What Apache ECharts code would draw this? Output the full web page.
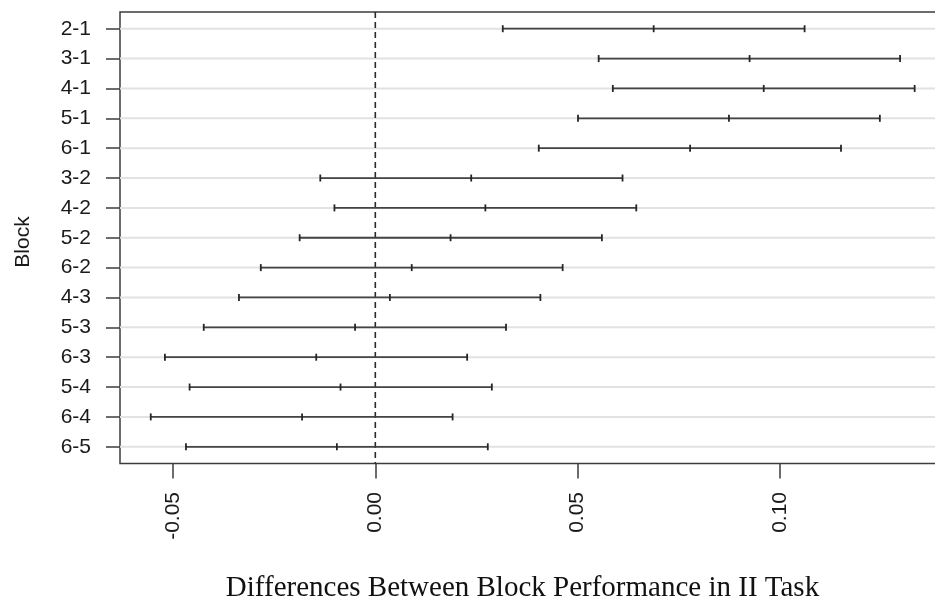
<!DOCTYPE html>
<html>
<head>
<meta charset="utf-8">
<title>Block differences</title>
<script src="https://cdn.jsdelivr.net/npm/echarts@6/dist/echarts.min.js"></script>
<style>
  html, body { margin: 0; padding: 0; background: #ffffff; }
  #chart { width: 935px; height: 606px; }
</style>
</head>
<body>
<div id="chart"></div>
<script>
// Pairwise block comparisons (top to bottom)
const comparisons = ['2-1', '3-1', '4-1', '5-1', '6-1', '3-2', '4-2', '5-2', '6-2', '4-3', '5-3', '6-3', '5-4', '6-4', '6-5'];
// Estimated difference in means
const diffs = [0.0688, 0.0925, 0.0960, 0.0874, 0.0778, 0.0237, 0.0272, 0.0186, 0.0090, 0.0036, -0.0050, -0.0146, -0.0086, -0.0181, -0.0095];
// Lower bound of the confidence interval
const lowers = [0.0315, 0.0552, 0.0587, 0.0501, 0.0404, -0.0136, -0.0101, -0.0187, -0.0283, -0.0337, -0.0424, -0.0520, -0.0459, -0.0555, -0.0468];
// Upper bound of the confidence interval
const uppers = [0.1061, 0.1297, 0.1333, 0.1247, 0.1151, 0.0611, 0.0645, 0.0560, 0.0463, 0.0408, 0.0323, 0.0227, 0.0288, 0.0191, 0.0278];
// Tick values along the difference axis
const xTicks = [-0.05, 0, 0.05, 0.10];
const xTickLabels = ['-0.05', '0.00', '0.05', '0.10'];

const X_MIN = -0.0631, X_MAX = 0.1408;
const Y_MIN = 0.44, Y_MAX = 15.56;

const rows = comparisons.map((_, i) => i + 1);
const intervalData = comparisons.map((c, i) => [i + 1, lowers[i], diffs[i], uppers[i]]);

const chart = echarts.init(document.getElementById('chart'), null, { renderer: 'canvas' });

const axisFont = { fontFamily: 'Liberation Sans, Arial, sans-serif', fontSize: 21, color: '#1a1a1a' };

chart.setOption({
  animation: false,
  backgroundColor: '#ffffff',
  grid: {
    left: 120, top: 12, width: 825, height: 451.5,
    outerBoundsMode: 'none', containLabel: false,
    show: true, borderColor: '#3c3c3c', borderWidth: 1.5, backgroundColor: 'transparent'
  },
  xAxis: {
    type: 'value', min: X_MIN, max: X_MAX,
    axisLine: { show: false, onZero: false },
    splitLine: { show: false },
    axisTick: { show: true, customValues: xTicks, length: 15, lineStyle: { color: '#3c3c3c', width: 1.5 } },
    axisLabel: {
      show: true, customValues: xTicks, rotate: 90, margin: 28.5,
      formatter: v => {
        const k = xTicks.findIndex(t => Math.abs(t - v) < 1e-9);
        return k >= 0 ? xTickLabels[k] : '';
      },
      ...axisFont
    }
  },
  yAxis: {
    type: 'value', min: Y_MIN, max: Y_MAX, inverse: true,
    axisLine: { show: false, onZero: false },
    splitLine: { show: false },
    axisTick: { show: true, customValues: rows, length: 14, lineStyle: { color: '#3c3c3c', width: 1.5 } },
    axisLabel: {
      show: true, customValues: rows, margin: 29,
      formatter: v => comparisons[Math.round(v) - 1] || '',
      ...axisFont
    }
  },
  series: [
    {
      // light horizontal guide at each comparison
      type: 'custom', silent: true, z: 1,
      data: rows.map(r => [r]),
      encode: { y: 0 },
      renderItem: (params, api) => {
        const y = api.value(0);
        const a = api.coord([X_MIN, y]);
        const b = api.coord([X_MAX, y]);
        return { type: 'line', shape: { x1: a[0], y1: a[1], x2: b[0], y2: b[1] },
                 style: { stroke: '#e2e2e2', lineWidth: 2 } };
      }
    },
    {
      // reference line at zero difference
      type: 'custom', silent: true, z: 2,
      data: [[0]],
      encode: { x: 0 },
      renderItem: (params, api) => {
        const a = api.coord([api.value(0), Y_MIN]);
        const b = api.coord([api.value(0), Y_MAX]);
        return { type: 'line', shape: { x1: a[0], y1: a[1], x2: b[0], y2: b[1] },
                 style: { stroke: '#2a2a2a', lineWidth: 1.6, lineDash: [6, 4] } };
      }
    },
    {
      // confidence intervals with end and centre ticks
      type: 'custom', silent: true, z: 3,
      data: intervalData,
      encode: { y: 0, x: [1, 2, 3] },
      renderItem: (params, api) => {
        const y = api.value(0);
        const lo = api.coord([api.value(1), y]);
        const mid = api.coord([api.value(2), y]);
        const hi = api.coord([api.value(3), y]);
        const h = 3.5;
        const tick = p => ({ type: 'line', shape: { x1: p[0], y1: p[1] - h, x2: p[0], y2: p[1] + h },
                             style: { stroke: '#262626', lineWidth: 1.8 } });
        return {
          type: 'group',
          children: [
            { type: 'line', shape: { x1: lo[0], y1: lo[1], x2: hi[0], y2: hi[1] },
              style: { stroke: '#444444', lineWidth: 1.8 } },
            tick(lo), tick(mid), tick(hi)
          ]
        };
      }
    }
  ],
  graphic: [
    {
      type: 'text', x: 23, y: 242, rotation: Math.PI / 2,
      style: { text: 'Block', fontFamily: 'Liberation Sans, Arial, sans-serif', fontSize: 21,
               fill: '#1a1a1a', align: 'center', verticalAlign: 'middle' }
    },
    {
      type: 'text', x: 522.5, y: 588,
      style: { text: 'Differences Between Block Performance in II Task',
               fontFamily: 'Liberation Serif, Times New Roman, serif', fontSize: 29,
               fill: '#111111', align: 'center', verticalAlign: 'middle' }
    }
  ]
});
</script>
</body>
</html>
